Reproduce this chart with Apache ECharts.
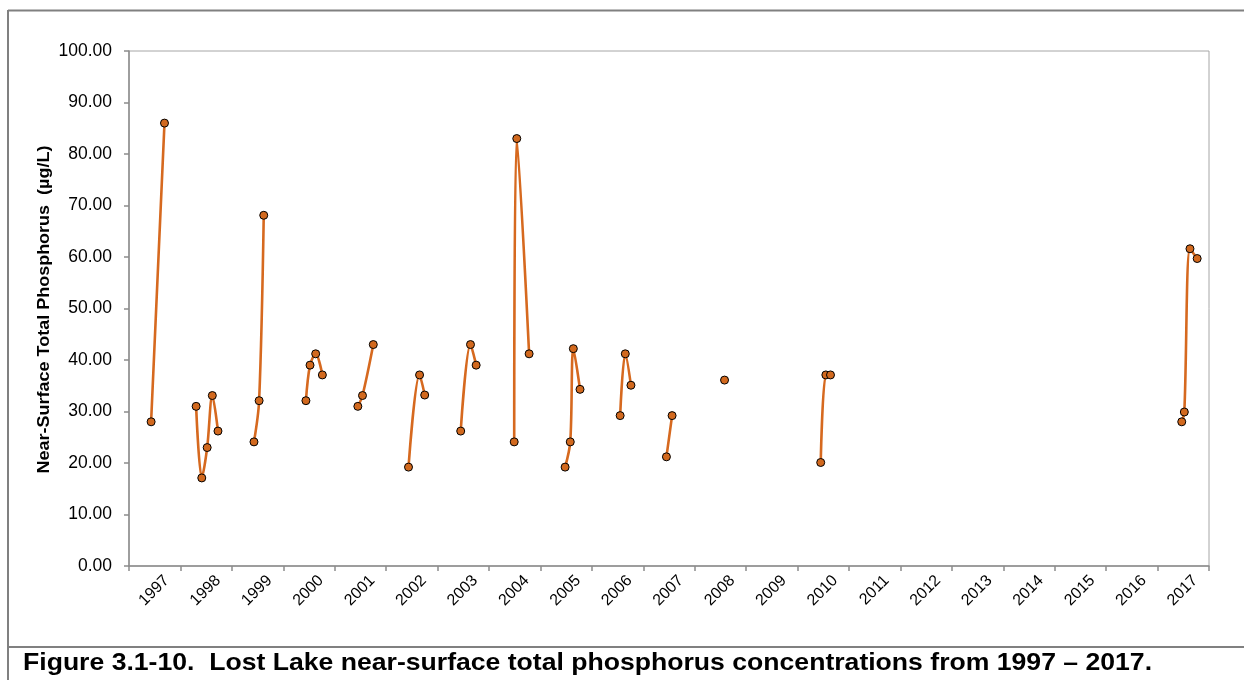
<!DOCTYPE html>
<html>
<head>
<meta charset="utf-8">
<script src="https://cdn.jsdelivr.net/npm/echarts@6/dist/echarts.min.js"></script>
<style>
  html, body { margin: 0; padding: 0; background: #ffffff; }
  #chart { width: 1244px; height: 680px; }
</style>
</head>
<body>
<div id="chart"></div>
<script>
// Category (year) labels on the x axis
const years = ['1997','1998','1999','2000','2001','2002','2003','2004','2005','2006','2007',
               '2008','2009','2010','2011','2012','2013','2014','2015','2016','2017'];
// Sample dates as decimal years; null marks a break between sampling seasons
const sampleDates = [1997.43, 1997.69, null,
  1998.305, 1998.415, 1998.52, 1998.62, 1998.73, null,
  1999.43, 1999.53, 1999.62, null,
  2000.44, 2000.52, 2000.63, 2000.76, null,
  2001.45, 2001.54, 2001.75, null,
  2002.435, 2002.65, 2002.75, null,
  2003.45, 2003.64, 2003.75, null,
  2004.49, 2004.54, 2004.78, null,
  2005.48, 2005.58, 2005.64, 2005.77, null,
  2006.55, 2006.65, 2006.76, null,
  2007.45, 2007.56, null,
  2008.58, null,
  2010.45, 2010.55, 2010.64, null,
  2017.47, 2017.52, 2017.63, 2017.77];
// Near-surface total phosphorus (µg/L)
const tpValues = [28.0, 86.0, null,
  31.0, 17.1, 23.0, 33.1, 26.2, null,
  24.1, 32.1, 68.1, null,
  32.1, 39.0, 41.2, 37.1, null,
  31.0, 33.1, 43.0, null,
  19.2, 37.1, 33.2, null,
  26.2, 43.0, 39.0, null,
  24.1, 83.0, 41.2, null,
  19.2, 24.1, 42.2, 34.3, null,
  29.2, 41.2, 35.1, null,
  21.2, 29.2, null,
  36.1, null,
  20.1, 37.1, 37.1, null,
  28.0, 29.9, 61.6, 59.7];
const yTicks = [0, 100, 10]; // min, max, interval
const yTitle = 'Near-Surface Total Phosphorus  (\u00b5g/L)';
const caption = 'Figure 3.1-10.  Lost Lake near-surface total phosphorus concentrations from 1997 \u2013 2017.';

const seriesData = [];
for (let i = 0; i < sampleDates.length; i++) {
  if (sampleDates[i] === null) {
    seriesData.push([sampleDates[i - 1], '-']);
  } else {
    seriesData.push([sampleDates[i], tpValues[i]]);
  }
}

const FONT = '"Liberation Sans", Arial, sans-serif';
const AXIS_GRAY = '#8c8c8c';
const startYear = parseInt(years[0], 10);
const endYear = parseInt(years[years.length - 1], 10) + 1;

const chart = echarts.init(document.getElementById('chart'), null, { renderer: 'canvas' });
chart.setOption({
  backgroundColor: '#ffffff',
  animation: false,
  textStyle: { fontFamily: FONT },
  grid: [
    { left: 129, right: 35, top: 51, bottom: 114, show: true, borderColor: '#a6a6a6', borderWidth: 1, backgroundColor: 'transparent' },
    { left: 141, right: 23, top: 51, bottom: 114, show: false }
  ],
  xAxis: [
    {
      type: 'category', gridIndex: 0, data: years, boundaryGap: true, position: 'bottom',
      axisLine: { show: true, lineStyle: { color: AXIS_GRAY, width: 1.5 } },
      axisTick: { show: true, length: 5, inside: false, lineStyle: { color: AXIS_GRAY, width: 1.5 } },
      axisLabel: { show: false },
      splitLine: { show: false }
    },
    {
      type: 'value', gridIndex: 0, min: startYear, max: endYear, position: 'top', show: false
    },
    {
      type: 'category', gridIndex: 1, data: years, boundaryGap: true, position: 'bottom',
      axisLine: { show: false }, axisTick: { show: false }, splitLine: { show: false },
      axisLabel: { show: true, interval: 0, rotate: 45, margin: 12, fontSize: 16, color: '#000000', fontFamily: FONT }
    }
  ],
  yAxis: [
    {
      type: 'value', gridIndex: 0, min: yTicks[0], max: yTicks[1], interval: yTicks[2],
      axisLine: { show: true, lineStyle: { color: AXIS_GRAY, width: 1.5 } },
      axisTick: { show: true, length: 5, inside: false, lineStyle: { color: AXIS_GRAY, width: 1.5 } },
      axisLabel: { margin: 17, fontSize: 17.5, color: '#000000', fontFamily: FONT,
                   formatter: function (v) { return v.toFixed(2); } },
      splitLine: { show: false }
    },
    { type: 'value', gridIndex: 1, min: 0, max: 100, show: false }
  ],
  series: [{
    type: 'line',
    xAxisIndex: 1, yAxisIndex: 0,
    data: seriesData,
    smooth: 0.33,
    connectNulls: false,
    showSymbol: true,
    symbol: 'circle',
    symbolSize: 8,
    lineStyle: { color: '#D6691F', width: 2.6 },
    itemStyle: { color: '#D2691E', borderColor: '#000000', borderWidth: 1 },
    z: 3
  }],
  graphic: [
    { type: 'line', shape: { x1: 8, y1: 10.5, x2: 1244, y2: 10.5 }, style: { stroke: '#808080', lineWidth: 2 }, silent: true },
    { type: 'line', shape: { x1: 8, y1: 10, x2: 8, y2: 680 }, style: { stroke: '#808080', lineWidth: 2 }, silent: true },
    { type: 'line', shape: { x1: 8, y1: 647, x2: 1244, y2: 647 }, style: { stroke: '#808080', lineWidth: 2 }, silent: true },
    {
      type: 'text', x: 44, y: 309.5, rotation: Math.PI / 2, scaleX: 1.09, silent: true,
      style: { text: yTitle, font: 'bold 16.5px "Liberation Sans", Arial, sans-serif', fill: '#000000',
               textAlign: 'center', textVerticalAlign: 'middle' }
    },
    {
      type: 'text', x: 23, y: 663, scaleX: 1.108, silent: true,
      style: { text: caption, font: 'bold 24px "Liberation Sans", Arial, sans-serif', fill: '#000000',
               textAlign: 'left', textVerticalAlign: 'middle' }
    }
  ]
});
</script>
</body>
</html>
